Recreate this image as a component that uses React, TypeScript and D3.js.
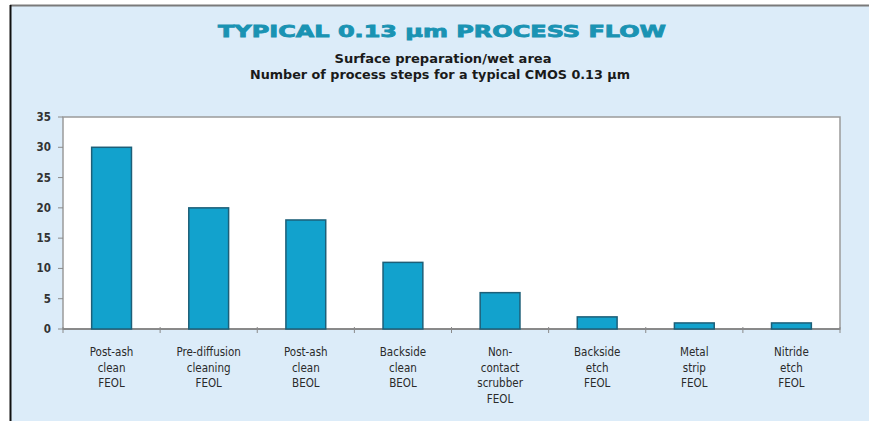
import React from "react";
import * as d3 from "d3";

const categories: string[][] = [
  ["Post-ash", "clean", "FEOL"],
  ["Pre-diffusion", "cleaning", "FEOL"],
  ["Post-ash", "clean", "BEOL"],
  ["Backside", "clean", "BEOL"],
  ["Non-", "contact", "scrubber", "FEOL"],
  ["Backside", "etch", "FEOL"],
  ["Metal", "strip", "FEOL"],
  ["Nitride", "etch", "FEOL"],
];
const steps: number[] = [30, 20, 18, 11, 6, 2, 1, 1];
const yTicks: number[] = [0, 5, 10, 15, 20, 25, 30, 35];

const title = "TYPICAL 0.13 \u00b5m PROCESS FLOW";
const subtitle1 = "Surface preparation/wet area";
const subtitle2 = "Number of process steps for a typical CMOS 0.13 \u00b5m";

export default function App() {
  const W = 869, H = 421;
  const left = 63, right = 840, top = 117, bottom = 329;
  const x = d3.scaleBand<number>().domain(d3.range(categories.length)).range([left, right]).paddingInner(0.59).paddingOuter(0.295);
  const y = d3.scaleLinear().domain([0, 35]).range([bottom, top]);
  const step = (right - left) / categories.length;
  const narrow = "'DejaVu Sans Condensed', 'Liberation Sans Narrow', 'Liberation Sans', sans-serif";

  return (
    <svg width={W} height={H} style={{ position: "absolute", left: 0, top: 0 }}>
      <rect x={0} y={0} width={W} height={H} fill="#ffffff" />
      <rect x={10} y={5} width={W - 10} height={H - 5} fill="#dcecf9" />
      <line x1={10} x2={W} y1={5.5} y2={5.5} stroke="#7a7a7a" strokeWidth={2} />
      <line x1={10.5} x2={10.5} y1={5} y2={H} stroke="#111" strokeWidth={2} />

      <text x={442} y={37} textAnchor="middle" fill="#1a93b3" fontFamily="'DejaVu Sans', sans-serif" fontWeight={900} fontSize={16} textLength={448} lengthAdjust="spacingAndGlyphs" stroke="#1a93b3" strokeWidth={0.8}>{title}</text>
      <text x={443} y={63} textAnchor="middle" fill="#1a1a1a" fontFamily={narrow} fontWeight={700} fontSize={12.5} textLength={217} lengthAdjust="spacingAndGlyphs">{subtitle1}</text>
      <text x={440} y={79} textAnchor="middle" fill="#1a1a1a" fontFamily={narrow} fontWeight={700} fontSize={12.5} textLength={380} lengthAdjust="spacingAndGlyphs">{subtitle2}</text>

      <rect x={left} y={top} width={right - left} height={bottom - top} fill="#ffffff" stroke="#9a9a9a" strokeWidth={1.5} />
      <line x1={left} x2={right} y1={bottom} y2={bottom} stroke="#7d7d7d" strokeWidth={1.5} />

      {yTicks.map((t) => (
        <g key={t}>
          <line x1={left - 5} x2={left} y1={y(t)} y2={y(t)} stroke="#8a8a8a" />
          <text x={51} y={y(t) + 4} textAnchor="end" fontFamily={narrow} fontWeight={700} fontSize={11.5} fill="#333">{t}</text>
        </g>
      ))}

      {d3.range(categories.length + 1).map((i) => (
        <line key={i} x1={left + i * step} x2={left + i * step} y1={bottom - 2} y2={bottom + 4} stroke="#8a8a8a" />
      ))}

      {steps.map((v, i) => (
        <rect key={i} x={x(i)} y={y(v)} width={x.bandwidth()} height={bottom - y(v)} fill="#12a2cd" stroke="#1d5f78" strokeWidth={1.5} />
      ))}

      {categories.map((lines, i) => (
        <text key={i} textAnchor="middle" fontFamily={narrow} fontSize={11.5} fill="#2a2a2a">
          {lines.map((l, j) => (
            <tspan key={j} x={(x(i) as number) + x.bandwidth() / 2} y={356 + j * 15.5}>{l}</tspan>
          ))}
        </text>
      ))}
    </svg>
  );
}
